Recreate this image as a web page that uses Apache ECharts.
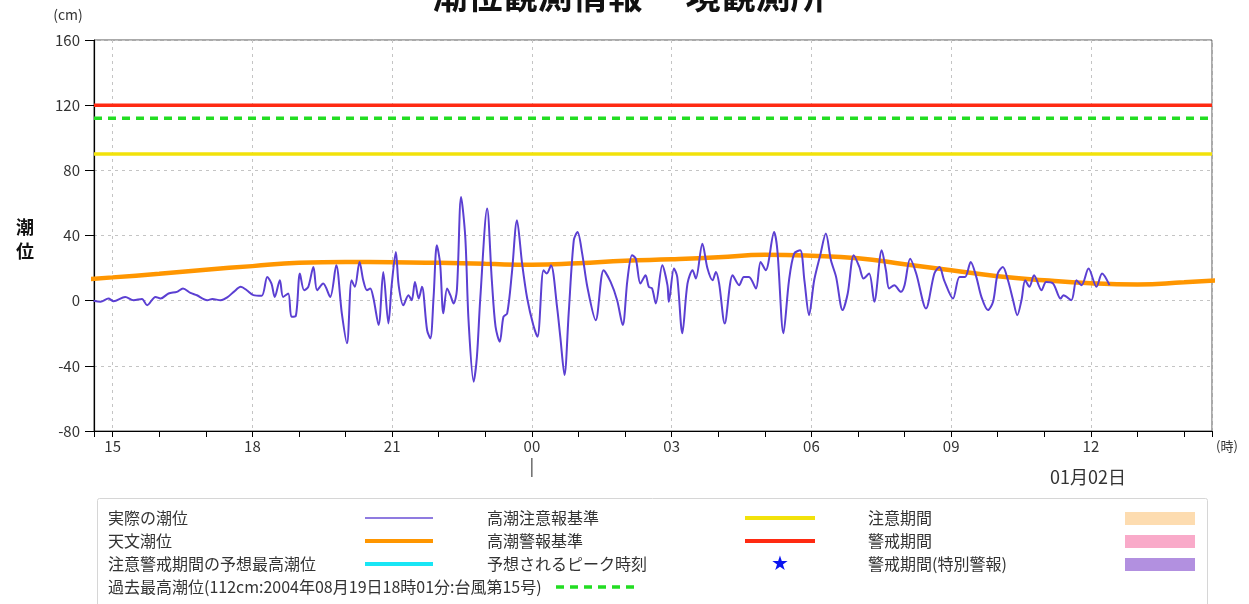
<!DOCTYPE html>
<html><head><meta charset="utf-8">
<script src="https://cdn.jsdelivr.net/npm/echarts@6/dist/echarts.min.js"></script>
<style>html,body{margin:0;padding:0;background:#fff}#c{width:1249px;height:604px}</style>
</head><body><div id="c"></div>
<script>
// ---- data (time in hours from 01/01 00:00) ----
const obsTime = [14.59,14.74,14.91,15.02,15.27,15.45,15.63,15.74,15.92,16.03,16.20,16.38,16.51,16.67,16.81,17.03,17.14,17.32,17.46,17.60,17.75,17.88,18.02,18.20,18.32,18.41,18.48,18.59,18.66,18.77,18.84,18.93,19.02,19.11,19.20,19.31,19.39,19.52,19.67,19.80,19.92,20.03,20.13,20.20,20.30,20.38,20.46,20.53,20.60,20.71,20.81,20.92,20.99,21.08,21.14,21.24,21.35,21.42,21.49,21.57,21.64,21.75,21.82,21.89,21.96,22.03,22.10,22.18,22.25,22.32,22.39,22.48,22.57,22.64,22.75,22.82,22.89,23.04,23.14,23.22,23.31,23.39,23.47,23.57,23.68,23.79,23.90,24.03,24.12,24.25,24.32,24.41,24.54,24.61,24.70,24.79,24.90,24.98,25.08,25.19,25.37,25.54,25.69,25.83,25.95,26.05,26.15,26.23,26.33,26.44,26.51,26.58,26.66,26.80,26.91,26.94,27.05,27.12,27.23,27.34,27.45,27.52,27.66,27.77,27.88,27.95,28.02,28.14,28.31,28.45,28.55,28.66,28.81,28.91,29.02,29.20,29.27,29.40,29.52,29.63,29.76,29.85,29.95,30.06,30.19,30.31,30.42,30.53,30.67,30.78,30.91,31.03,31.12,31.24,31.35,31.51,31.60,31.67,31.78,31.92,32.00,32.12,32.25,32.46,32.64,32.75,32.85,33.04,33.18,33.30,33.42,33.54,33.65,33.79,33.90,34.00,34.11,34.22,34.33,34.42,34.51,34.59,34.68,34.78,34.94,35.04,35.19,35.35,35.41,35.58,35.69,35.80,35.95,36.12,36.24,36.40];
const obsLevel = [0,-0.7,1.3,-0.3,2.3,0.3,1,-2.8,2.3,1.3,4.4,5.4,7.5,4.8,3.3,0.3,1,0.3,2,5.4,8.5,6.4,3.4,3,14.6,10.5,2.3,12.5,2.3,4.4,-9.9,-9.5,16.7,6.4,8.5,20.7,6.4,10.5,2.3,21.7,-7.8,-26.2,12.5,8.5,23.8,12.5,6.4,7.5,1.3,-15,17.6,-14,9.5,29.9,9.5,-2.8,3.4,0.3,11.5,1.3,8.5,-18,-23.2,2.3,34,22.8,-7.8,7.5,3.4,-1.7,6.4,63.6,39.1,-12,-49.7,-34.4,0.3,56.5,12.5,-16,-25.2,-9.9,-7.8,16.7,49.3,22.8,1.3,-15,-22.2,18.7,16.7,21.7,-3.8,-22.2,-45.6,-7.8,37.1,42.1,28.9,8.5,-12,18.7,11.5,0.3,-15,12.5,27.9,25.8,10.5,15.6,8.5,7.5,-1.7,21.7,9.5,-0.7,19.7,14.6,-20,10.5,18.7,13.6,35,19.7,12.5,17.6,10.5,-14,15.6,9.5,14.6,14.6,7.5,23.8,18.7,42.1,30.9,-20,12.5,28.9,30.9,12.5,-8.9,12.5,27.9,41.2,24.8,14.6,-5.8,4.4,27.9,20.7,13.6,16.7,-0.7,30.9,18.7,7.5,9.5,5.4,9.5,25.8,16.7,-4.8,16.7,20.7,12.5,1.3,14.6,14.6,23.8,14.6,2.3,-5.8,-0.7,16.7,20.7,12.5,0.3,-8.9,0.3,12.5,8.5,15.6,6.4,11.5,10.5,1.3,3.4,0.3,12.5,9.5,19.7,8.5,16.7,9.5];
const astroTime = [14,15,16,17,18,19,20,21,22,23,24,25,26,27,28,29,30,31,32,33,34,35,36,37,38,39];
const astroLevel = [12.3,14.3,16.5,19,21.2,23.2,23.7,23.6,23.2,22.6,22,23,24.5,25.4,26.6,28.2,27.6,26,22.4,18.7,15,12.5,10.7,10,11.3,12.9];
const warningLevel = 120;   // 高潮警報基準
const recordLevel = 112;    // 過去最高潮位
const advisoryLevel = 90;   // 高潮注意報基準
const xMin = 14.6, xMax = 38.6;
const yMin = -80, yMax = 160, yStep = 40;
const dateMarkTime = 24;
const dateLabel = '01月02日';
const titleText = '潮位観測情報　 境観測所';

const FONT = '"Noto Sans CJK JP", "Noto Sans", sans-serif';
const pair = (ts, vs) => ts.map((t, i) => [t, vs[i]]);
const flat = v => [[xMin, v], [xMax, v]];

const chart = echarts.init(document.getElementById('c'), null, {renderer: 'canvas'});

const G = {left: 94, right: 37, top: 40, bottom: 173};
const plotW = 1249 - G.left - G.right;
const markX = G.left + (dateMarkTime - xMin) / (xMax - xMin) * plotW;

// legend (drawn as graphic text + swatches)
const rows = [518, 541, 564, 587];
const legendEls = [];
legendEls.push({type: 'rect', shape: {x: 97.5, y: 498.5, width: 1110, height: 130, r: 2},
  style: {fill: '#fff', stroke: '#d6d6d6', lineWidth: 1}, silent: true});
const txt = (x, y, s) => legendEls.push({type: 'text', x, y,
  style: {text: s, fill: '#333', font: '16px ' + FONT, textVerticalAlign: 'middle'}});
const ln = (x1, x2, y, color, w, dash) => legendEls.push({type: 'line',
  shape: {x1, y1: y, x2, y2: y}, style: {stroke: color, lineWidth: w, lineDash: dash || null}});
const rc = (y, color) => legendEls.push({type: 'rect', shape: {x: 1125, y: y - 6, width: 70, height: 13},
  style: {fill: color}});
txt(108, rows[0], '実際の潮位');
txt(108, rows[1], '天文潮位');
txt(108, rows[2], '注意警戒期間の予想最高潮位');
txt(108, rows[3], '過去最高潮位(112cm:2004年08月19日18時01分:台風第15号)');
ln(365, 433, rows[0], '#6a4fd6', 1.5);
ln(365, 433, rows[1], '#ff9600', 4);
ln(365, 433, rows[2], '#19e6f5', 4);
ln(556, 640, rows[3], '#22dd22', 3.5, [8, 6]);
txt(487, rows[0], '高潮注意報基準');
txt(487, rows[1], '高潮警報基準');
txt(487, rows[2], '予想されるピーク時刻');
ln(745, 815, rows[0], '#f2e20a', 4);
ln(745, 815, rows[1], '#ff2a12', 4);
legendEls.push({type: 'text', x: 780, y: rows[2] + 1,
  style: {text: '★', fill: '#0a14f0', font: '20px "DejaVu Sans", sans-serif', textAlign: 'center', textVerticalAlign: 'middle'}});
txt(868, rows[0], '注意期間');
txt(868, rows[1], '警戒期間');
txt(868, rows[2], '警戒期間(特別警報)');
rc(rows[0], '#fddcb0');
rc(rows[1], '#f9aac9');
rc(rows[2], '#b290e0');

const option = {
  animation: false,
  backgroundColor: '#fff',
  textStyle: {fontFamily: FONT},
  grid: Object.assign({show: true, borderColor: '#555', borderWidth: 1, backgroundColor: 'transparent'}, G),
  xAxis: {
    type: 'value', min: xMin, max: xMax, splitNumber: 8,
    axisLine: {show: true, onZero: false, lineStyle: {color: '#000', width: 1.2}},
    axisTick: {show: true, length: 6, lineStyle: {color: '#000'}},
    minorTick: {show: true, splitNumber: 3, length: 6, lineStyle: {color: '#000'}},
    axisLabel: {showMinLabel: false, showMaxLabel: false, color: '#333', fontSize: 15, margin: 8,
      formatter: v => String(Math.round(v) % 24).padStart(2, '0')},
    splitLine: {show: true, lineStyle: {color: '#c4c4c4', type: [3, 4]}}
  },
  yAxis: {
    type: 'value', min: yMin, max: yMax, interval: yStep,
    axisLine: {show: true, lineStyle: {color: '#000', width: 1.2}},
    axisTick: {show: true, length: 9, lineStyle: {color: '#000'}},
    axisLabel: {color: '#333', fontSize: 15, margin: 14},
    splitLine: {show: true, lineStyle: {color: '#c4c4c4', type: [3, 4]}}
  },
  series: [
    {name: '高潮注意報基準', type: 'line', data: flat(advisoryLevel), showSymbol: false, symbol: 'none',
      lineStyle: {color: '#f2e20a', width: 3.5}, z: 2},
    {name: '過去最高潮位', type: 'line', data: flat(recordLevel), showSymbol: false, symbol: 'none',
      lineStyle: {color: '#22dd22', width: 3.5, type: [8, 6]}, z: 2},
    {name: '高潮警報基準', type: 'line', data: flat(warningLevel), showSymbol: false, symbol: 'none',
      lineStyle: {color: '#ff2a12', width: 3.5}, z: 2},
    {name: '天文潮位', type: 'line', data: pair(astroTime, astroLevel), smooth: true, showSymbol: false, symbol: 'none',
      lineStyle: {color: '#ff9600', width: 4.5}, z: 3},
    {name: '実際の潮位', type: 'line', data: pair(obsTime, obsLevel), smooth: 0.3, showSymbol: false, symbol: 'none',
      lineStyle: {color: '#5b3fd2', width: 2}, z: 4}
  ],
  graphic: [
    {type: 'text', x: 629, y: -4, style: {text: titleText, fill: '#111',
      font: 'bold 35px ' + FONT, textAlign: 'center', textVerticalAlign: 'middle'}},
    {type: 'text', x: 68, y: 15, style: {text: '(cm)', fill: '#333', font: '14px ' + FONT,
      textAlign: 'center', textVerticalAlign: 'middle'}},
    {type: 'text', x: 25, y: 239, style: {text: '潮\n位', fill: '#111', font: 'bold 18px ' + FONT,
      textAlign: 'center', textVerticalAlign: 'middle', lineHeight: 24}},
    {type: 'text', x: 1216, y: 446, style: {text: '(時)', fill: '#333', font: '13px ' + FONT,
      textVerticalAlign: 'middle'}},
    {type: 'line', shape: {x1: markX, y1: 458, x2: markX, y2: 477}, style: {stroke: '#222', lineWidth: 1}},
    {type: 'text', x: 1088, y: 477, style: {text: dateLabel, fill: '#333', font: '18px ' + FONT,
      textAlign: 'center', textVerticalAlign: 'middle'}}
  ].concat(legendEls)
};
chart.setOption(option);
</script>
</body></html>
